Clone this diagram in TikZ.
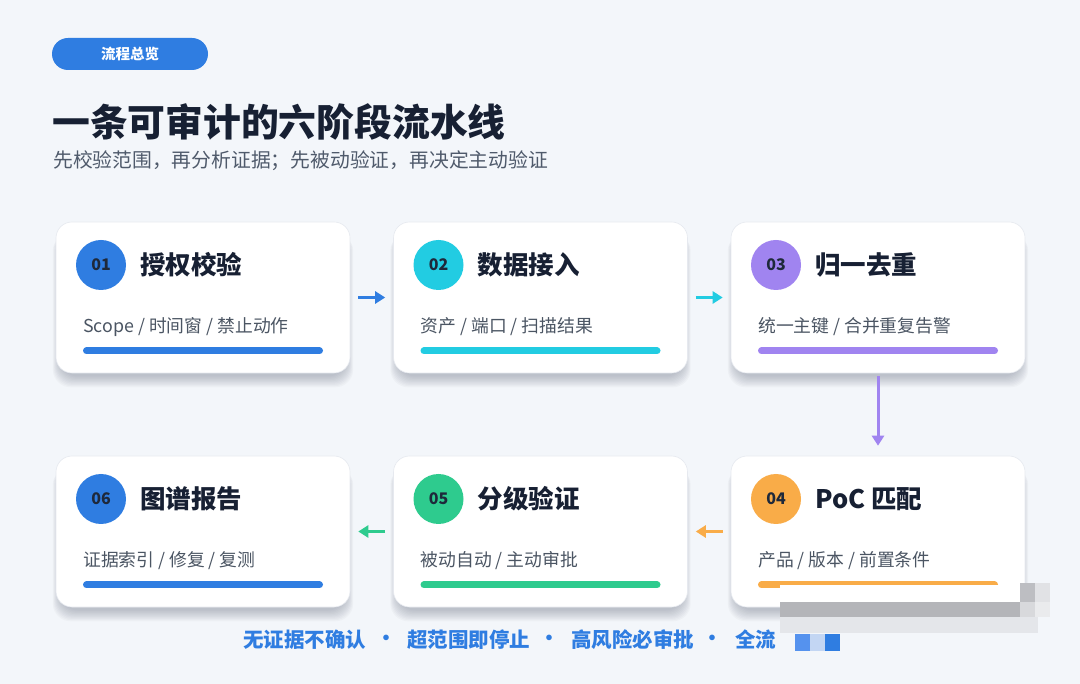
\documentclass[tikz,border=0pt]{standalone}
\usepackage{fontspec}
\setmainfont{Noto Sans CJK SC}
\usetikzlibrary{arrows.meta}
\definecolor{bg}{HTML}{F3F6FA}
\definecolor{titlec}{HTML}{172033}
\definecolor{subc}{HTML}{4F5A6B}
\definecolor{cardtext}{HTML}{4B5563}
\definecolor{numtext}{HTML}{1E293B}
\definecolor{cardline}{HTML}{E6E9EF}
\definecolor{shade}{HTML}{4A5468}
\definecolor{cblue}{HTML}{2F7DE1}
\definecolor{ccyan}{HTML}{22CCE2}
\definecolor{cpurple}{HTML}{A084F0}
\definecolor{corange}{HTML}{F9AC48}
\definecolor{cgreen}{HTML}{2ECB8E}
\definecolor{mosA}{HTML}{B4B5B9}
\definecolor{mosB}{HTML}{E4E6EA}
\definecolor{mosC}{HTML}{BDBEC2}
\definecolor{mosD}{HTML}{E1E2E5}
\definecolor{mosE}{HTML}{D8D9DC}
\definecolor{mosF}{HTML}{EAEBED}
\definecolor{sqA}{HTML}{5592EE}
\definecolor{sqB}{HTML}{C3D6F3}
\tikzset{
  cardbox/.style={rectangle, rounded corners=16pt, fill=white, draw=cardline, line width=0.6pt,
    minimum width=294pt, minimum height=151pt, inner sep=0pt},
  shadowlayer/.style={fill=shade, fill opacity=0.036, rounded corners=18pt},
  numdisc/.style={circle, minimum size=50pt, inner sep=0pt, text=numtext,
    font=\fontsize{16}{16}\selectfont\bfseries},
  cardtitle/.style={anchor=west, inner sep=0pt, text=titlec, font=\fontsize{25.5}{28}\selectfont\bfseries},
  cardsub/.style={anchor=west, inner sep=0pt, text=cardtext, font=\fontsize{17.8}{20}\selectfont},
  barline/.style={line width=7pt, line cap=round},
  flowarrow/.style={line width=3pt, -{Triangle[width=12pt,length=10pt]}},
  foot/.style={anchor=west, inner sep=0pt, text=cblue, font=\fontsize{20.5}{22}\selectfont\bfseries},
}
\newcommand\stagecard[7]{%
  \foreach \k in {0,...,9}{%
    \fill[shadowlayer] ({#2-143-0.8*\k},{#3-68+0.4*\k}) rectangle ({#2+143+0.8*\k},{#3+79+1.2*\k});
  }
  \node[cardbox] (c#1) at (#2,#3) {};
  \node[numdisc, fill=#4] (n#1) at ({#2-102},{#3-32.5}) {#5};
  \node[cardtitle] (t#1) at ({#2-63},{#3-32.5}) {#6};
  \node[cardsub] (s#1) at ({#2-120},{#3+29.5}) {#7};
  \coordinate (bl#1) at ({#2-116.5},{#3+53.5});
  \coordinate (br#1) at ({#2+116.5},{#3+53.5});
  \draw[barline, #4] (bl#1) -- (br#1);
}
\begin{document}
\begin{tikzpicture}[x=1pt,y=-1pt]
\fill[bg] (0,0) rectangle (1080,684);
\useasboundingbox (0,0) rectangle (1080,684);

% badge
\node[rectangle, rounded corners=16pt, fill=cblue, minimum width=156pt, minimum height=32pt, inner sep=0pt,
  text=white, font=\fontsize{14.5}{16}\selectfont\bfseries] (badge) at (130,54) {流程总览};

% title & subtitle
\node[anchor=west, inner sep=0pt, text=titlec, font=\fontsize{37.8}{40}\selectfont\bfseries] (title) at (52,122) {一条可审计的六阶段流水线};
\node[anchor=west, inner sep=0pt, text=subc, font=\fontsize{19.8}{22}\selectfont] (subtitle) at (53,161) {先校验范围，再分析证据；先被动验证，再决定主动验证};

% cards
\stagecard{1}{203}{297.5}{cblue}{01}{授权校验}{Scope / 时间窗 / 禁止动作}
\stagecard{2}{540.5}{297.5}{ccyan}{02}{数据接入}{资产 / 端口 / 扫描结果}
\stagecard{3}{878}{297.5}{cpurple}{03}{归一去重}{统一主键 / 合并重复告警}
\stagecard{4}{878}{531.5}{corange}{04}{PoC 匹配}{产品 / 版本 / 前置条件}
\stagecard{5}{540.5}{531.5}{cgreen}{05}{分级验证}{被动自动 / 主动审批}
\stagecard{6}{203}{531.5}{cblue}{06}{图谱报告}{证据索引 / 修复 / 复测}

% connectors
\draw[flowarrow, cblue] ([xshift=8pt]c1.east) -- ([xshift=-8pt]c2.west);
\draw[flowarrow, ccyan] ([xshift=8pt]c2.east) -- ([xshift=-8pt]c3.west);
\draw[flowarrow, cpurple] ([yshift=-3pt]c3.south) -- ([yshift=10pt]c4.north);
\draw[flowarrow, corange] ([xshift=-8pt]c4.west) -- ([xshift=8pt]c5.east);
\draw[flowarrow, cgreen] ([xshift=-8pt]c5.west) -- ([xshift=8pt]c6.east);

% footer line
\node[foot] (f1) at (243,640) {无证据不确认};
\node[foot] (f2) at (407,640) {超范围即停止};
\node[foot] (f3) at (571,640) {高风险必审批};
\node[foot] (f4) at (735,640) {全流};
\node[text=cblue, inner sep=0pt, font=\fontsize{20}{22}\selectfont\bfseries] (d1) at (386,640) {·};
\node[text=cblue, inner sep=0pt, font=\fontsize{20}{22}\selectfont\bfseries] (d2) at (549,640) {·};
\node[text=cblue, inner sep=0pt, font=\fontsize{20}{22}\selectfont\bfseries] (d3) at (712,640) {·};

% mosaic cover (bottom right)
\fill[white] (780,585) rectangle (1020,602);
\fill[mosA] (780,602) rectangle (1020,617);
\fill[mosB] (780,617) rectangle (1038,633);
\fill[mosC] (1020,583) rectangle (1035,602);
\fill[mosD] (1035,583) rectangle (1050,602);
\fill[mosE] (1020,602) rectangle (1035,617);
\fill[mosF] (1035,602) rectangle (1050,617);
\fill[sqA] (795,634) rectangle (810,651);
\fill[sqB] (810,634) rectangle (825,651);
\fill[cblue] (825,634) rectangle (840,651);
\end{tikzpicture}
\end{document}
